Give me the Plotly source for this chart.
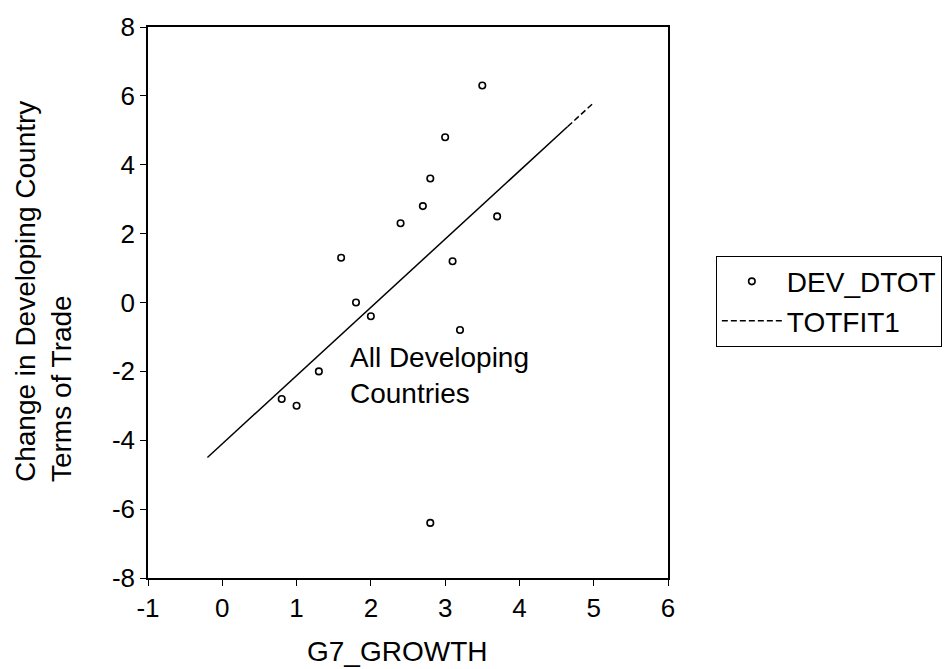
import plotly.graph_objects as go

# G7 growth vs. change in developing-country terms of trade
g7_growth = [3.5, 3.0, 2.8, 2.7, 2.4, 3.7, 1.6, 3.1, 1.8, 2.0, 3.2, 1.3, 0.8, 1.0, 2.8]
dev_dtot = [6.3, 4.8, 3.6, 2.8, 2.3, 2.5, 1.3, 1.2, 0.0, -0.4, -0.8, -2.0, -2.8, -3.0, -6.4]

# fitted values (TOTFIT1): dense part drawn solid, sparse tail dashed
fit_x_main = [-0.2, 4.65]
fit_y_main = [-4.5, 5.11]
fit_x_tail = [4.65, 5.0]
fit_y_tail = [5.11, 5.8]

x_ticks = [-1, 0, 1, 2, 3, 4, 5, 6]
y_ticks = [-8, -6, -4, -2, 0, 2, 4, 6, 8]

FONT = "Liberation Sans, Arial, sans-serif"
TXT = dict(family=FONT, size=28, color="black")

fig = go.Figure()
fig.add_trace(go.Scatter(
    x=g7_growth, y=dev_dtot, mode="markers", name="DEV_DTOT",
    marker=dict(symbol="circle-open", size=6.5, color="black", line=dict(width=1.6, color="black")),
))
fig.add_trace(go.Scatter(
    x=fit_x_main, y=fit_y_main, mode="lines", showlegend=False,
    line=dict(color="black", width=1.5),
))
fig.add_trace(go.Scatter(
    x=fit_x_tail, y=fit_y_tail, mode="lines", name="TOTFIT1",
    line=dict(color="black", width=1.5, dash="6px,3px"),
))

# in-plot label
fig.add_annotation(
    x=1.692, y=-2.13, xref="x", yref="y", xanchor="left", yanchor="middle",
    text="All Developing<br>Countries", showarrow=False, align="left", font=TXT,
)
# axis titles
fig.add_annotation(
    x=-0.2019, y=0.519, xref="paper", yref="paper", xanchor="center", yanchor="middle",
    text="Change in Developing Country<br>Terms of Trade", textangle=-90,
    showarrow=False, align="left", font=TXT,
)
fig.add_annotation(
    x=0.479, y=-0.1325, xref="paper", yref="paper", xanchor="center", yanchor="middle",
    text="G7_GROWTH", showarrow=False, font=TXT,
)

axis_common = dict(
    showgrid=False, zeroline=False, showline=True, linecolor="black", linewidth=1.5,
    mirror=True, ticks="outside", ticklen=6, tickwidth=1.2, tickcolor="black",
    tickfont=dict(family=FONT, size=26, color="black"),
)

fig.update_xaxes(range=[-1, 6], tickvals=x_ticks, ticktext=[str(v) for v in x_ticks], **axis_common)
fig.update_yaxes(range=[-8, 8], tickvals=y_ticks, ticktext=[str(v) for v in y_ticks], **axis_common)

fig.update_layout(
    width=944, height=669,
    margin=dict(l=148, r=276, t=27, b=91, autoexpand=False),
    paper_bgcolor="white", plot_bgcolor="white",
    font=TXT,
    legend=dict(
        x=1.092, y=0.585, xanchor="left", yanchor="top",
        bordercolor="black", borderwidth=1, bgcolor="white",
        font=TXT, tracegroupgap=0, itemwidth=60,
    ),
)

fig.write_html("out.html")
